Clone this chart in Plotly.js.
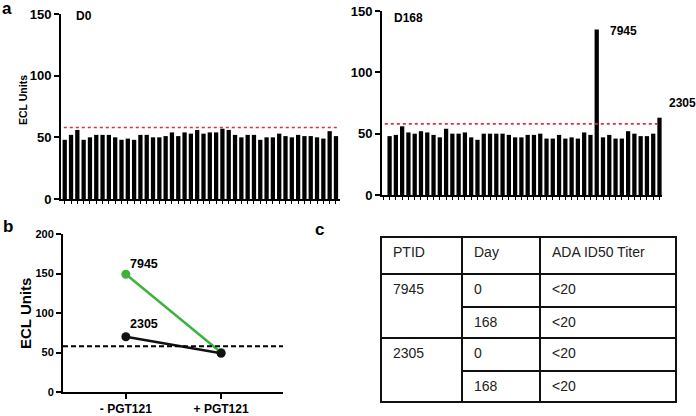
<!DOCTYPE html>
<html>
<head>
<meta charset="utf-8">
<script src="https://cdn.plot.ly/plotly-3.0.1.min.js"></script>
<style>html,body{margin:0;padding:0;background:#fff}#chart{width:696px;height:416px}</style>
</head>
<body>
<div id="chart"></div>
<script>
// ---------- DATA ----------
const d0Values = [48,52,56,48,50,52,52,52,50,48,49,48,52,52,50,50,51,54,51,54,53,56,53,54,54,57,56,52,50,52,52,48,50,50,53,51,50,52,51,51,50,49,55,51];
const d168Values = [48,49,56,51,50,52,51,49,47,54,50,50,51,47,45,50,50,50,50,49,47,47,49,49,50,46,46,49,46,47,46,51,49,135,47,49,46,46,52,50,48,48,50,63];
const cutoffA = 58;
const conditions = ['- PGT121', '+ PGT121'];
const ptid7945 = [149, 50];
const ptid2305 = [70, 49];
const cutoffB = 58;
const yTicksA = [0, 50, 100, 150];
const yTicksB = [0, 50, 100, 150, 200];
const tableHeader = ['PTID', 'Day', 'ADA ID50 Titer'];
const tablePtids = ['7945', '2305'];
const tableDays = ['0', '168', '0', '168'];
const tableTiters = ['<20', '<20', '<20', '<20'];

// ---------- HELPERS ----------
const W = 696, H = 416;
const px = x => x / W;
const py = y => 1 - y / H;
const FONT = 'Arial, "Liberation Sans", Helvetica, sans-serif';
const idx = d0Values.map((_, i) => i + 1);

const traces = [
  {type: 'bar', x: idx, y: d0Values, xaxis: 'x', yaxis: 'y', width: 0.68,
   marker: {color: '#000'}, hoverinfo: 'y', showlegend: false},
  {type: 'bar', x: idx, y: d168Values, xaxis: 'x2', yaxis: 'y2', width: 0.68,
   marker: {color: '#000'}, hoverinfo: 'y', showlegend: false},
  {type: 'scatter', mode: 'lines+markers', x: conditions, y: ptid7945, xaxis: 'x3', yaxis: 'y3',
   line: {color: '#3cb43c', width: 2.5}, marker: {color: '#3cb43c', size: 9}, showlegend: false},
  {type: 'scatter', mode: 'lines+markers', x: conditions, y: ptid2305, xaxis: 'x3', yaxis: 'y3',
   line: {color: '#111', width: 2.5}, marker: {color: '#111', size: 9}, showlegend: false}
];

const barX = (dom, range) => ({
  domain: dom, range: range,
  showgrid: false, zeroline: false, showline: true, linecolor: '#000', linewidth: 2,
  ticks: 'outside', ticklen: 3, tickwidth: 1, tickcolor: '#000', tick0: 1, dtick: 1,
  showticklabels: false, fixedrange: true
});
const barY = (dom) => ({
  domain: dom, range: [0, 150], tickvals: yTicksA, ticktext: yTicksA.map(String),
  showgrid: false, zeroline: false, showline: true, linecolor: '#000', linewidth: 2,
  ticks: 'outside', ticklen: 5, tickwidth: 2, tickcolor: '#000',
  tickfont: {family: FONT, size: 13, color: '#000', weight: 700}, fixedrange: true
});

const layout = {
  width: W, height: H,
  margin: {l: 0, r: 0, t: 0, b: 0},
  paper_bgcolor: '#fff', plot_bgcolor: '#fff',
  font: {family: FONT, color: '#000'},
  xaxis: Object.assign(barX([px(61), px(340)], [0.41, 44.64]), {anchor: 'y'}),
  yaxis: Object.assign(barY([py(199), py(14)]), {anchor: 'x'}),
  xaxis2: Object.assign(barX([px(382), px(662)], [-0.21, 44.4]), {anchor: 'y2'}),
  yaxis2: Object.assign(barY([py(195), py(11)]), {anchor: 'x2'}),
  xaxis3: {
    domain: [px(63), px(283)], anchor: 'y3', type: 'category', range: [-0.66, 1.65],
    showgrid: false, zeroline: false, showline: true, linecolor: '#000', linewidth: 2,
    ticks: 'outside', ticklen: 5, tickwidth: 2, tickcolor: '#000',
    tickfont: {family: FONT, size: 12, color: '#000', weight: 700}, fixedrange: true
  },
  yaxis3: {
    domain: [py(392), py(234)], anchor: 'x3', range: [0, 200], tickvals: yTicksB,
    showgrid: false, zeroline: false, showline: true, linecolor: '#000', linewidth: 2,
    ticks: 'outside', ticklen: 5, tickwidth: 2, tickcolor: '#000',
    tickfont: {family: FONT, size: 11, color: '#000', weight: 700}, fixedrange: true
  },
  shapes: [
    {type: 'line', xref: 'x domain', yref: 'y', x0: 0.01, x1: 0.99, y0: cutoffA, y1: cutoffA,
     line: {color: '#d9303b', width: 1.6, dash: '3px,3px'}},
    {type: 'line', xref: 'x2 domain', yref: 'y2', x0: 0.01, x1: 0.99, y0: cutoffA, y1: cutoffA,
     line: {color: '#d9303b', width: 1.6, dash: '3px,3px'}},
    {type: 'line', xref: 'x3 domain', yref: 'y3', x0: 0.0, x1: 1.0, y0: cutoffB, y1: cutoffB,
     line: {color: '#000', width: 2, dash: '5px,3px'}}
  ],
  annotations: []
};

const ann = (text, x, y, size, opts) => Object.assign({
  text: text, xref: 'paper', yref: 'paper', x: px(x), y: py(y),
  xanchor: 'left', yanchor: 'middle', showarrow: false,
  font: {family: FONT, size: size, color: '#000', weight: 700}
}, opts || {});

layout.annotations.push(
  ann('a', 0, 8, 17),
  ann('b', 1, 227, 17),
  ann('c', 313, 229, 17),
  ann('D0', 74, 16, 12),
  ann('D168', 392, 17.5, 12),
  ann('7945', 608, 31, 12),
  ann('2305', 667, 102.5, 12),
  ann('ECL Units', 23, 100, 10.5, {xanchor: 'center', textangle: -90}),
  ann('ECL Units', 25, 314, 15, {xanchor: 'center', textangle: -90}),
  ann('7945', 128, 264, 12.5),
  ann('2305', 128, 324, 12.5)
);

// ---------- TABLE (panel c) ----------
const colEdges = [381, 462, 540, 676];
const rowEdges = [237, 274, 307, 338, 371, 402];
const tline = (x0, y0, x1, y1) => ({type: 'line', xref: 'paper', yref: 'paper',
  x0: px(x0), y0: py(y0), x1: px(x1), y1: py(y1), line: {color: '#111', width: 2}});
layout.shapes.push({type: 'rect', xref: 'paper', yref: 'paper',
  x0: px(colEdges[0]), x1: px(colEdges[3]), y0: py(rowEdges[0]), y1: py(rowEdges[5]),
  line: {color: '#111', width: 2}, fillcolor: 'rgba(0,0,0,0)'});
layout.shapes.push(tline(colEdges[1], rowEdges[0], colEdges[1], rowEdges[5]));
layout.shapes.push(tline(colEdges[2], rowEdges[0], colEdges[2], rowEdges[5]));
layout.shapes.push(tline(colEdges[0], rowEdges[1], colEdges[3], rowEdges[1]));
layout.shapes.push(tline(colEdges[0], rowEdges[3], colEdges[3], rowEdges[3]));
layout.shapes.push(tline(colEdges[1], rowEdges[2], colEdges[3], rowEdges[2]));
layout.shapes.push(tline(colEdges[1], rowEdges[4], colEdges[3], rowEdges[4]));

const cellFont = {family: FONT, size: 14, color: '#222', weight: 400};
const textPad = 10;
const textOffset = 15;
tableHeader.forEach((h, i) => {
  layout.annotations.push(ann(h, colEdges[i] + textPad, rowEdges[0] + textOffset, 14, {font: cellFont}));
});
tablePtids.forEach((p, i) => {
  layout.annotations.push(ann(p, colEdges[0] + textPad, rowEdges[1 + 2 * i] + textOffset, 14, {font: cellFont}));
});
tableDays.forEach((d, i) => {
  layout.annotations.push(ann(d, colEdges[1] + textPad, rowEdges[1 + i] + textOffset, 14, {font: cellFont}));
});
tableTiters.forEach((t, i) => {
  layout.annotations.push(ann(t, colEdges[2] + textPad, rowEdges[1 + i] + textOffset, 14, {font: cellFont}));
});

Plotly.newPlot('chart', traces, layout, {displayModeBar: false, staticPlot: true});
</script>
</body>
</html>
